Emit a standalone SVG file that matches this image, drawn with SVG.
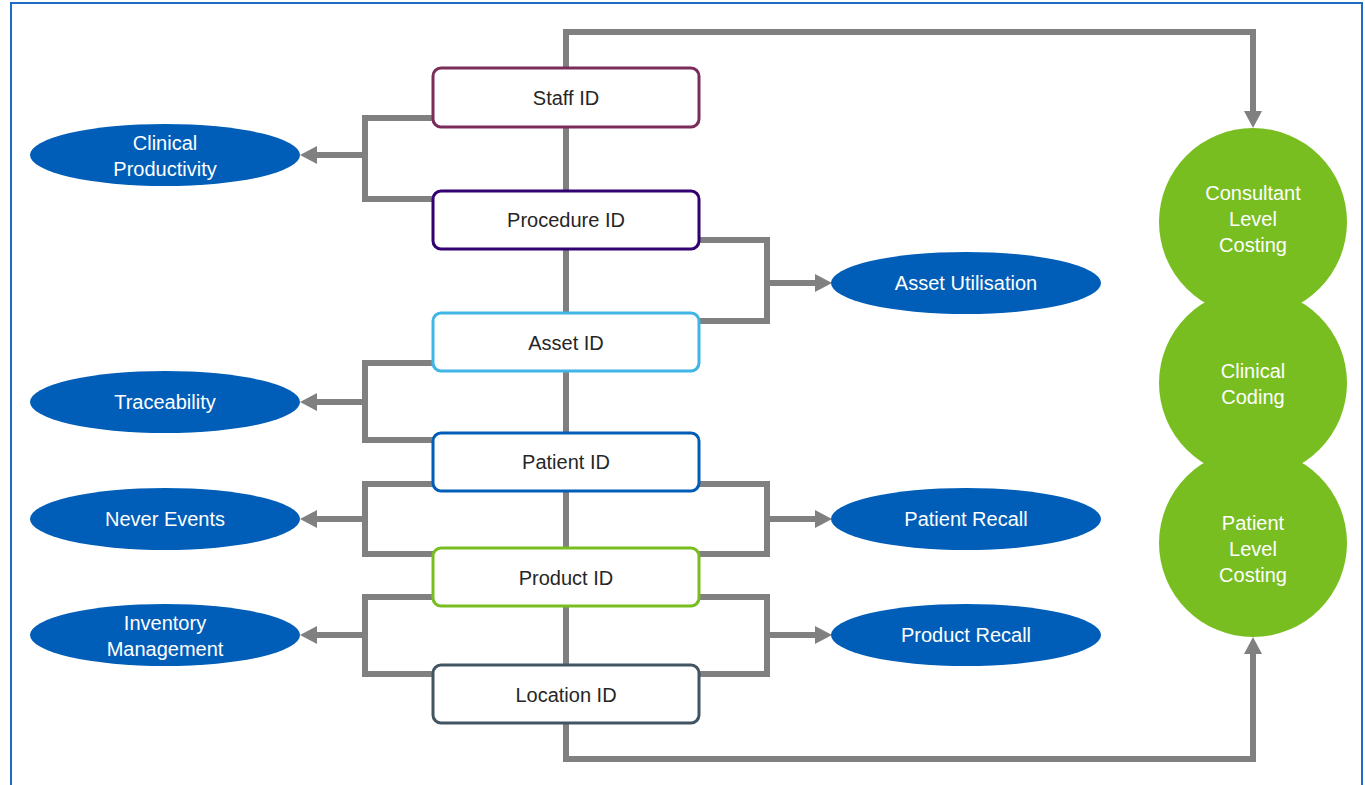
<svg xmlns="http://www.w3.org/2000/svg" width="1365" height="785" viewBox="0 0 1365 785">
  <defs>
    <marker id="arrow" markerUnits="userSpaceOnUse" viewBox="0 0 17 18" markerWidth="17" markerHeight="18" refX="0" refY="9" orient="auto">
      <path d="M0,0 L17,9 L0,18 Z" fill="#808080"/>
    </marker>
    <style>
      .link { fill: none; stroke: #808080; stroke-width: 6; }
      .arrowed { marker-end: url(#arrow); }
      .box { fill: #ffffff; stroke-width: 3; }
      .boxtext { font-family: "Liberation Sans", Arial, sans-serif; font-size: 20px; fill: #262626; text-anchor: middle; }
      .oval { fill: #005EB8; }
      .circle { fill: #78BE20; }
      .light { font-family: "Liberation Sans", Arial, sans-serif; font-size: 20px; fill: #ffffff; text-anchor: middle; }
    </style>
  </defs>

  <rect width="1365" height="785" fill="#ffffff"/>
  <!-- outer frame -->
  <rect x="11" y="3" width="1351" height="800" fill="none" stroke="#1C6DC2" stroke-width="2"/>

  <g id="connectors">
    <!-- spine through the identifiers -->
    <path class="link" d="M566,68 V723"/>
    <!-- top route to Consultant Level Costing -->
    <path class="link arrowed" d="M566,68 V32 H1253 V111"/>
    <!-- bottom route to Patient Level Costing -->
    <path class="link arrowed" d="M566,723 V759 H1253 V654"/>

    <!-- left brackets -->
    <path class="link" d="M433,118 H365 V199 H433"/>
    <path class="link arrowed" d="M365,155 H317"/>
    <path class="link" d="M433,363 H365 V440 H433"/>
    <path class="link arrowed" d="M365,402 H317"/>
    <path class="link" d="M433,484 H365 V554 H433"/>
    <path class="link arrowed" d="M365,519 H317"/>
    <path class="link" d="M433,597 H365 V674 H433"/>
    <path class="link arrowed" d="M365,635 H317"/>

    <!-- right brackets -->
    <path class="link" d="M699,240 H767 V321 H699"/>
    <path class="link arrowed" d="M767,283 H815"/>
    <path class="link" d="M699,484 H767 V554 H699"/>
    <path class="link arrowed" d="M767,519 H815"/>
    <path class="link" d="M699,597 H767 V674 H699"/>
    <path class="link arrowed" d="M767,635 H815"/>
  </g>

  <!-- identifier boxes -->
  <g id="staff-id">
    <rect class="box" x="433" y="68" width="266" height="59" rx="8" stroke="#7B2D5A"/>
    <text class="boxtext" x="566" y="105">Staff ID</text>
  </g>
  <g id="procedure-id">
    <rect class="box" x="433" y="191" width="266" height="58" rx="8" stroke="#330072"/>
    <text class="boxtext" x="566" y="227">Procedure ID</text>
  </g>
  <g id="asset-id">
    <rect class="box" x="433" y="313" width="266" height="58" rx="8" stroke="#41B6E6"/>
    <text class="boxtext" x="566" y="350">Asset ID</text>
  </g>
  <g id="patient-id">
    <rect class="box" x="433" y="433" width="266" height="58" rx="8" stroke="#005EB8"/>
    <text class="boxtext" x="566" y="469">Patient ID</text>
  </g>
  <g id="product-id">
    <rect class="box" x="433" y="548" width="266" height="58" rx="8" stroke="#78BE20"/>
    <text class="boxtext" x="566" y="585">Product ID</text>
  </g>
  <g id="location-id">
    <rect class="box" x="433" y="665" width="266" height="58" rx="8" stroke="#425563"/>
    <text class="boxtext" x="566" y="702">Location ID</text>
  </g>

  <!-- outcomes on the left -->
  <g id="clinical-productivity">
    <ellipse class="oval" cx="165" cy="155" rx="135" ry="31"/>
    <text class="light" x="165" y="150">Clinical</text>
    <text class="light" x="165" y="176">Productivity</text>
  </g>
  <g id="traceability">
    <ellipse class="oval" cx="165" cy="402" rx="135" ry="31"/>
    <text class="light" x="165" y="409">Traceability</text>
  </g>
  <g id="never-events">
    <ellipse class="oval" cx="165" cy="519" rx="135" ry="31"/>
    <text class="light" x="165" y="526">Never Events</text>
  </g>
  <g id="inventory-management">
    <ellipse class="oval" cx="165" cy="635" rx="135" ry="31"/>
    <text class="light" x="165" y="630">Inventory</text>
    <text class="light" x="165" y="656">Management</text>
  </g>

  <!-- outcomes on the right -->
  <g id="asset-utilisation">
    <ellipse class="oval" cx="966" cy="283" rx="135" ry="31"/>
    <text class="light" x="966" y="290">Asset Utilisation</text>
  </g>
  <g id="patient-recall">
    <ellipse class="oval" cx="966" cy="519" rx="135" ry="31"/>
    <text class="light" x="966" y="526">Patient Recall</text>
  </g>
  <g id="product-recall">
    <ellipse class="oval" cx="966" cy="635" rx="135" ry="31"/>
    <text class="light" x="966" y="642">Product Recall</text>
  </g>

  <!-- costing stack -->
  <g id="consultant-level-costing">
    <circle class="circle" cx="1253" cy="222" r="94"/>
    <text class="light" x="1253" y="200">Consultant</text>
    <text class="light" x="1253" y="226">Level</text>
    <text class="light" x="1253" y="252">Costing</text>
  </g>
  <g id="clinical-coding">
    <circle class="circle" cx="1253" cy="383" r="94"/>
    <text class="light" x="1253" y="378">Clinical</text>
    <text class="light" x="1253" y="404">Coding</text>
  </g>
  <g id="patient-level-costing">
    <circle class="circle" cx="1253" cy="543" r="94"/>
    <text class="light" x="1253" y="530">Patient</text>
    <text class="light" x="1253" y="556">Level</text>
    <text class="light" x="1253" y="582">Costing</text>
  </g>
</svg>
